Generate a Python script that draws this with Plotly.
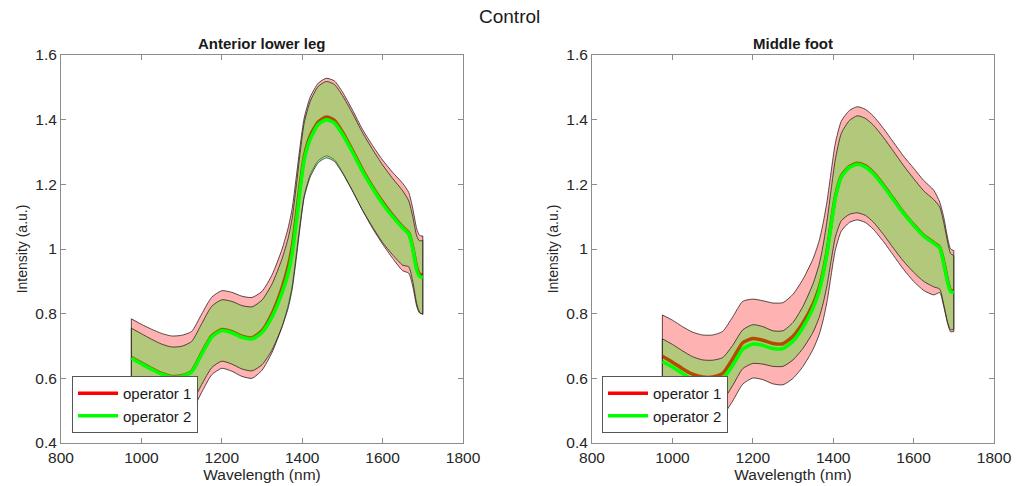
import plotly.graph_objects as go

# ---------------- data ----------------
wavelength = [975, 1000, 1025, 1050, 1075, 1100, 1125, 1150, 1175, 1200, 1225, 1250, 1275,
              1300, 1325, 1350, 1365, 1375, 1385, 1395, 1405, 1420, 1440, 1460, 1480, 1500,
              1525, 1550, 1575, 1600, 1625, 1650, 1665, 1675, 1685, 1692, 1700]

# Anterior lower leg
leg_mean_op1 = [0.664, 0.647, 0.630, 0.615, 0.606, 0.608, 0.622, 0.678, 0.731, 0.751, 0.744, 0.730, 0.725,
                0.747, 0.800, 0.880, 0.945, 1.005, 1.100, 1.200, 1.285, 1.350, 1.393, 1.408, 1.398, 1.362,
                1.305, 1.245, 1.192, 1.145, 1.104, 1.068, 1.050, 1.005, 0.942, 0.922, 0.920]
leg_mean_op2 = [0.662, 0.645, 0.628, 0.613, 0.604, 0.606, 0.620, 0.675, 0.728, 0.748, 0.741, 0.727, 0.722,
                0.742, 0.790, 0.865, 0.925, 0.985, 1.080, 1.185, 1.275, 1.340, 1.385, 1.400, 1.390, 1.355,
                1.300, 1.240, 1.188, 1.140, 1.100, 1.065, 1.047, 1.000, 0.935, 0.915, 0.912]
leg_std_op1 = [0.120, 0.120, 0.122, 0.124, 0.125, 0.125, 0.123, 0.121, 0.120, 0.120, 0.122, 0.124, 0.125,
               0.122, 0.120, 0.120, 0.120, 0.120, 0.120, 0.120, 0.120, 0.120, 0.120, 0.120, 0.122, 0.124,
               0.125, 0.125, 0.128, 0.130, 0.133, 0.135, 0.125, 0.120, 0.120, 0.120, 0.120]
leg_std_op2 = [0.093, 0.093, 0.093, 0.093, 0.093, 0.093, 0.094, 0.094, 0.095, 0.095, 0.097, 0.098, 0.099,
               0.100, 0.102, 0.105, 0.108, 0.110, 0.112, 0.114, 0.115, 0.117, 0.118, 0.118, 0.119, 0.120,
               0.120, 0.120, 0.120, 0.120, 0.118, 0.115, 0.102, 0.100, 0.105, 0.110, 0.115]

# Middle foot
foot_mean_op1 = [0.668, 0.650, 0.630, 0.613, 0.604, 0.604, 0.615, 0.660, 0.710, 0.723, 0.718, 0.708, 0.707,
                 0.730, 0.772, 0.830, 0.880, 0.930, 0.995, 1.080, 1.160, 1.225, 1.255, 1.265, 1.257, 1.236,
                 1.198, 1.155, 1.112, 1.075, 1.042, 1.020, 1.005, 0.960, 0.900, 0.872, 0.870]
foot_mean_op2 = [0.652, 0.635, 0.615, 0.597, 0.587, 0.588, 0.598, 0.640, 0.690, 0.706, 0.702, 0.692, 0.692,
                 0.715, 0.758, 0.818, 0.870, 0.922, 0.990, 1.075, 1.155, 1.222, 1.252, 1.262, 1.254, 1.233,
                 1.195, 1.152, 1.110, 1.073, 1.040, 1.018, 1.003, 0.955, 0.895, 0.868, 0.866]
foot_std_op1 = [0.128, 0.130, 0.130, 0.130, 0.130, 0.130, 0.130, 0.130, 0.128, 0.122, 0.122, 0.125, 0.127,
                0.130, 0.135, 0.140, 0.145, 0.150, 0.155, 0.160, 0.165, 0.170, 0.173, 0.175, 0.175, 0.175,
                0.175, 0.175, 0.175, 0.175, 0.170, 0.162, 0.140, 0.138, 0.132, 0.128, 0.125]
foot_std_op2 = [0.070, 0.070, 0.070, 0.070, 0.070, 0.068, 0.066, 0.062, 0.060, 0.060, 0.058, 0.055, 0.055,
                0.058, 0.065, 0.075, 0.082, 0.090, 0.100, 0.110, 0.120, 0.135, 0.145, 0.150, 0.150, 0.150,
                0.150, 0.150, 0.148, 0.145, 0.140, 0.135, 0.127, 0.127, 0.124, 0.118, 0.114]

panel_titles = ["Anterior lower leg", "Middle foot"]
series_names = ["operator 1", "operator 2"]
x_ticks = [800, 1000, 1200, 1400, 1600, 1800]
y_ticks = [0.4, 0.6, 0.8, 1.0, 1.2, 1.4, 1.6]
y_ticktext = ["0.4", "0.6", "0.8", "1", "1.2", "1.4", "1.6"]

# ---------------- styling ----------------
FONT = "Liberation Sans, Arial, sans-serif"
PINK_FILL = "rgba(255,0,0,0.30)"
GREEN_FILL = "rgba(0,255,0,0.30)"
EDGE = "rgba(50,35,35,0.9)"
RED = "#ff0000"
GREEN = "#00ff00"
TXT = "#262626"

panels = [
    (leg_mean_op1, leg_std_op1, leg_mean_op2, leg_std_op2),
    (foot_mean_op1, foot_std_op1, foot_mean_op2, foot_std_op2),
]

fig = go.Figure()

for i, (m1, s1, m2, s2) in enumerate(panels):
    xa = "x" if i == 0 else "x2"
    ya = "y" if i == 0 else "y2"
    leg = "legend" if i == 0 else "legend2"

    def band(mean, std, fillcolor):
        lo = [m - s for m, s in zip(mean, std)]
        hi = [m + s for m, s in zip(mean, std)]
        fig.add_trace(go.Scatter(x=wavelength, y=lo, mode="lines",
                                 line=dict(color=EDGE, width=0.9, shape="spline", smoothing=0.6),
                                 xaxis=xa, yaxis=ya, showlegend=False, hoverinfo="skip"))
        fig.add_trace(go.Scatter(x=wavelength, y=hi, mode="lines",
                                 line=dict(color=EDGE, width=0.9, shape="spline", smoothing=0.6),
                                 fill="tonexty", fillcolor=fillcolor,
                                 xaxis=xa, yaxis=ya, showlegend=False, hoverinfo="skip"))
        for k in (0, -1):
            fig.add_trace(go.Scatter(x=[wavelength[k], wavelength[k]], y=[lo[k], hi[k]], mode="lines",
                                     line=dict(color=EDGE, width=0.9), xaxis=xa, yaxis=ya,
                                     showlegend=False, hoverinfo="skip"))

    band(m1, s1, PINK_FILL)
    fig.add_trace(go.Scatter(x=wavelength, y=m1, mode="lines", name=series_names[0],
                             line=dict(color=RED, width=3.5, shape="spline", smoothing=0.6),
                             xaxis=xa, yaxis=ya, legend=leg))
    band(m2, s2, GREEN_FILL)
    fig.add_trace(go.Scatter(x=wavelength, y=m2, mode="lines", name=series_names[1],
                             line=dict(color=GREEN, width=3.5, shape="spline", smoothing=0.6),
                             xaxis=xa, yaxis=ya, legend=leg))

axis_common = dict(
    showline=True, linecolor="#8c8c8c", linewidth=1, mirror="ticks",
    ticks="inside", ticklen=5, tickcolor="#8c8c8c", tickwidth=1,
    showgrid=False, zeroline=False, automargin=False,
    tickfont=dict(family=FONT, size=15.5, color=TXT),
)

L0, R0, T0, B0 = 61, 24, 55, 43
W, H = 1018, 486
pw = W - L0 - R0
ph = H - T0 - B0
dom1 = [0, (463 - L0) / pw]
dom2 = [(592 - L0) / pw, 1]

for name, dom, anchor in (("xaxis", dom1, "y"), ("xaxis2", dom2, "y2")):
    fig.layout[name] = dict(axis_common, domain=dom, anchor=anchor, range=[800, 1800], tickvals=x_ticks,
                            title=dict(text="Wavelength (nm)", font=dict(family=FONT, size=15.5, color=TXT),
                                       standoff=0))
for name, anchor in (("yaxis", "x"), ("yaxis2", "x2")):
    fig.layout[name] = dict(axis_common, anchor=anchor, range=[0.4, 1.6], tickvals=y_ticks,
                            ticktext=y_ticktext,
                            title=dict(text="Intensity (a.u.)", font=dict(family=FONT, size=14, color=TXT),
                                       standoff=4))

legend_common = dict(
    bgcolor="white", bordercolor="#555555", borderwidth=1,
    font=dict(family=FONT, size=15, color="#1a1a1a"),
    xanchor="left", yanchor="bottom", y=(443 - 433) / ph,
    itemwidth=40, tracegroupgap=0, traceorder="normal",
)

fig.update_layout(
    width=W, height=H,
    margin=dict(l=L0, r=R0, t=T0, b=B0, autoexpand=False),
    paper_bgcolor="white", plot_bgcolor="white",
    font=dict(family=FONT, color=TXT),
    legend=dict(legend_common, x=(72 - L0) / pw),
    legend2=dict(legend_common, x=(602 - L0) / pw),
)
fig.add_annotation(text="Control", x=(509 - L0) / pw, xref="paper", y=1 + (T0 - 17) / ph, yref="paper",
                   xanchor="center", yanchor="middle", showarrow=False,
                   font=dict(family=FONT, size=19, color="#1a1a1a"))
for dom, t in zip((dom1, dom2), panel_titles):
    fig.add_annotation(text="<b>" + t + "</b>", x=(dom[0] + dom[1]) / 2, xref="paper", y=1, yref="paper",
                       yanchor="bottom", xanchor="center", showarrow=False, yshift=1,
                       font=dict(family=FONT, size=15, color="#1a1a1a"))

fig.write_html("out.html", config={"displayModeBar": False},
               post_script="document.body.style.margin='0px';document.body.style.overflow='hidden';")
